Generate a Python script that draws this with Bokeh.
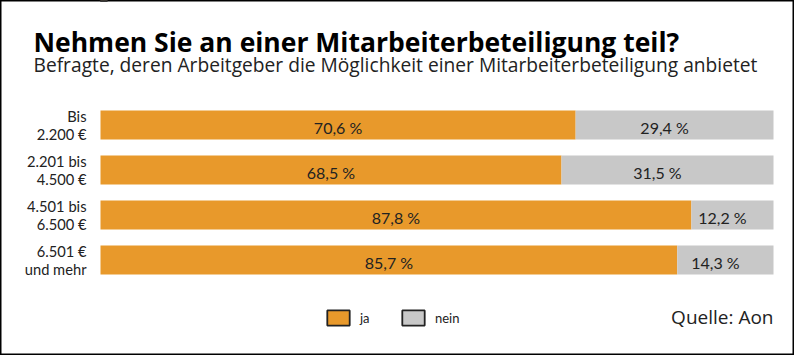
from bokeh.plotting import figure
from bokeh.models import Range1d, ColumnDataSource, Label, Legend, LegendItem
from bokeh.core.properties import value
from bokeh.embed import file_html
from bokeh.resources import INLINE

# ---- data ----
categories = ["Bis\n2.200 €", "2.201 bis\n4.500 €", "4.501 bis\n6.500 €", "6.501 €\nund mehr"]
ja = [70.6, 68.5, 87.8, 85.7]
nein = [29.4, 31.5, 12.2, 14.3]
series_names = ["ja", "nein"]
title_text = "Nehmen Sie an einer Mitarbeiterbeteiligung teil?"
subtitle_text = "Befragte, deren Arbeitgeber die Möglichkeit einer Mitarbeiterbeteiligung anbietet"
source_text = "Quelle: Aon"

ORANGE = "#E8992B"
GRAY = "#C8C8C8"
TEXT = "#222222"
FONT = "Lato"
HFONT = "Open Sans"

W, H = 794, 355
# pixel layout of the plotting area
x0_px, x100_px = 100, 773
ppu = (x100_px - x0_px) / 100.0
row_px = 45.0
first_center_px = 124.5

idx = list(range(len(categories)))
fmt = lambda v: f"{v:.1f}".replace(".", ",") + " %"
src = ColumnDataSource(dict(
    y=idx, ja=ja, nein=nein, total=[a + b for a, b in zip(ja, nein)],
    ja_mid=[a / 2 for a in ja], nein_mid=[a + b / 2 for a, b in zip(ja, nein)],
    ja_lbl=[fmt(v) for v in ja], nein_lbl=[fmt(v) for v in nein],
    cat=categories, zero=[0] * len(idx),
))

p = figure(width=W, height=H, output_backend="svg", toolbar_location=None,
           x_range=Range1d(-x0_px / ppu, (W - x0_px) / ppu),
           y_range=Range1d((H - first_center_px) / row_px, -first_center_px / row_px),
           min_border=0, background_fill_color="white", border_fill_color="white")
p.axis.visible = False
p.grid.visible = False
p.outline_line_color = "black"
p.outline_line_width = 2

bh = 29 / row_px
p.hbar(y="y", left="zero", right="ja", height=bh, source=src, fill_color=ORANGE, line_color=None)
p.hbar(y="y", left="ja", right="total", height=bh, source=src, fill_color=GRAY, line_color=None)

p.text(x="ja_mid", y="y", text="ja_lbl", source=src, text_align="center", text_baseline="middle",
       y_offset=2, text_font=value(FONT), text_font_size="16px", text_color=TEXT)
p.text(x="nein_mid", y="y", text="nein_lbl", source=src, text_align="center", text_baseline="middle",
       x_offset=-10, y_offset=2, text_font=value(FONT), text_font_size="16px", text_color=TEXT)
p.text(x="zero", y="y", text="cat", source=src, text_align="right", text_baseline="middle",
       x_offset=-14, text_font=value(FONT), text_font_size="14.7px", text_color=TEXT,
       text_line_height=1.02)

# legend (renderers hold one point placed outside the visible range)
r_ja = p.hbar(y=[-100], left=[0], right=[1], height=0.5, fill_color=ORANGE, line_color="#222222", line_width=1.8)
r_nein = p.hbar(y=[-100], left=[0], right=[1], height=0.5, fill_color=GRAY, line_color="#222222", line_width=1.8)
leg = Legend(items=[LegendItem(label=series_names[0], renderers=[r_ja]),
                    LegendItem(label=series_names[1], renderers=[r_nein])],
             orientation="horizontal", location=(324, 28), glyph_width=28, glyph_height=19,
             label_standoff=8, spacing=19, padding=0, margin=0, border_line_color=None,
             background_fill_alpha=0, label_text_font=FONT, label_text_font_size="13px",
             label_text_color=TEXT, label_height=19)
p.add_layout(leg, "center")

p.add_layout(Label(x=33, y=H - 41, x_units="screen", y_units="screen", text=title_text,
                   text_font=HFONT, text_font_style="bold", text_font_size="26.5px",
                   text_color="black", text_baseline="alphabetic"))
p.add_layout(Label(x=33, y=H - 64, x_units="screen", y_units="screen", text=subtitle_text,
                   text_font=HFONT, text_font_size="19.2px", text_color=TEXT,
                   text_baseline="alphabetic"))
p.add_layout(Label(x=773, y=H - 316, x_units="screen", y_units="screen", text=source_text,
                   text_font=HFONT, text_font_size="19px", text_color=TEXT, text_align="right",
                   text_baseline="alphabetic"))

open("out.html", "w").write(file_html(p, INLINE))
